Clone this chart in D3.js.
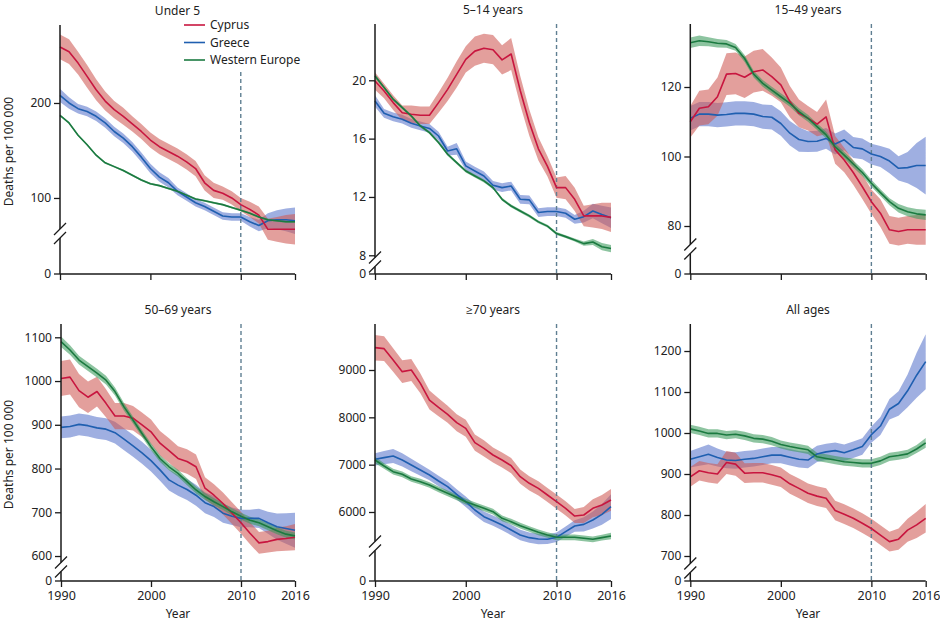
<!DOCTYPE html>
<html><head><meta charset="utf-8">
<script src="https://cdn.jsdelivr.net/npm/d3@7/dist/d3.min.js"></script>
<style>
body{margin:0;background:#fff}
svg{display:block}
text{font-family:"Noto Sans","Open Sans",sans-serif;fill:#222}
</style>
</head><body>
<svg id="chart" width="940" height="623"></svg>
<script>
// ---------------- DATA ----------------
const years = [1990,1991,1992,1993,1994,1995,1996,1997,1998,1999,2000,2001,2002,2003,2004,2005,2006,2007,2008,2009,2010,2011,2012,2013,2014,2015,2016];
const seriesNames = ["Cyprus","Greece","Western Europe"];
const panelTitles = ["Under 5","5–14 years","15–49 years","50–69 years","≥70 years","All ages"];
const xTickYears = [1990,2000,2010,2016];
const xTickLabels = ["1990","2000","2010","2016"];
const yTicksUnder5 = [100,200];
const yTicks5to14 = [8,12,16,20];
const yTicks15to49 = [80,100,120];
const yTicks50to69 = [600,700,800,900,1000,1100];
const yTicks70plus = [6000,7000,8000,9000];
const yTicksAll = [700,800,900,1000,1100,1200];
const yAxisTitle = "Deaths per 100 000";
const xAxisTitle = "Year";
const projectionYear = 2010;

// Under 5
const under5Cyprus = [259,254,242,228,214,202,193,186,178,170,161,154,149,144,138,131,116,108,105,100,93,88,82,67,67,67,67];
const under5Greece = [208,200,194,191,186,179,170,163,154,143,131,122,116,107,101,95,91,86,81,80,80,75,71,76,77,77,76];
const under5WE     = [187,179,166,156,145,137,133,129,124,119,115,113,110,107,103,99,97,95,93,90,87,84,80,77,76,75,75];
const under5CyprusCI = [13,13,12,12,11,10,9,9,8,8,8,8,8,8,8,8,8,8,7,7,7,8,9,11,13,15,16];
const under5GreeceCI = [7,6,5,5,5,5,5,5,5,5,5,5,5,4,4,4,4,4,4,4,4,5,6,8,10,12,14];
const under5WECI     = [1,1,1,1,1,1,1,1,1,1,1,1,1,1,1,1,1,1,1,1,1,1,1,1,1,1,1];

// 5-14 years
const y5to14Cyprus = [19.95,19.27,18.47,17.78,17.67,17.6,17.6,18.47,19.38,20.4,21.44,22.0,22.2,22.1,21.4,21.8,19.3,17.1,15.3,14.1,12.64,12.64,11.84,10.7,10.7,10.7,10.6];
const y5to14Greece = [18.58,17.74,17.5,17.33,17.05,16.87,16.7,16.18,15.15,15.3,14.13,13.78,13.44,12.8,12.64,12.75,11.84,11.8,10.93,11.0,11.0,10.88,10.47,10.65,11.04,10.8,10.58];
const y5to14WE     = [20.3,19.5,18.7,18.13,17.55,16.87,16.41,15.73,14.93,14.35,13.78,13.44,13.1,12.64,11.84,11.38,11.04,10.7,10.29,10.0,9.49,9.28,9.05,8.8,8.91,8.59,8.46];
const y5to14CyprusCI = [0.6,0.5,0.5,0.5,0.6,0.6,0.6,0.7,0.8,0.9,0.9,1.0,1.0,1.0,1.0,1.1,1.0,0.9,0.8,0.7,0.7,0.8,0.8,0.7,0.8,0.9,1.0];
const y5to14GreeceCI = [0.4,0.3,0.3,0.3,0.3,0.3,0.3,0.3,0.3,0.4,0.3,0.3,0.3,0.3,0.3,0.3,0.3,0.3,0.3,0.3,0.3,0.3,0.3,0.4,0.5,0.6,0.7];
const y5to14WECI     = [0.15,0.1,0.1,0.1,0.1,0.1,0.1,0.1,0.1,0.1,0.1,0.1,0.1,0.1,0.1,0.1,0.1,0.1,0.1,0.1,0.1,0.1,0.1,0.15,0.2,0.25,0.25];

// 15-49 years
const y15to49Cyprus = [110,113.9,114.3,117.2,123.7,123.9,122.8,124.4,124.9,123,120.6,115.8,112.4,111.0,109.3,111.4,101.9,99.0,95.4,91.3,87.0,83.7,78.9,78.4,78.9,78.9,78.9];
const y15to49Greece = [111.0,112.2,112.2,111.9,112.1,112.4,112.4,112.2,111.5,111.3,109.5,106.7,104.9,104.3,104.4,105.2,103.6,104.8,102.6,102.2,100.7,100.0,98.7,96.6,96.8,97.4,97.4];
const y15to49WE     = [132.75,133.3,133.0,132.6,132.4,131.4,128.2,123.7,121.05,119.1,117.2,115.3,112.9,111.0,108.6,106.2,102.8,100.4,97.85,95.4,92.3,89.6,87.0,85.1,84.1,83.5,83.2];
const y15to49CyprusCI = [4.5,5,5,5.5,6,6,6,6,6,5.5,5,4.5,4,3.5,3.5,5,4,3.5,3.5,3.5,3.5,4,4,4,4,4.3,4.3];
const y15to49GreeceCI = [3.5,3.5,3.5,3.5,3.5,3.5,3.5,3.5,3.5,3.5,3.5,3.5,3.5,3,3,3,3,3,3,3,3,3,3.5,3.5,4.5,6.5,8.3];
const y15to49WECI     = [1.5,1.5,1.3,1.2,1.1,1,1,1,1,1,1,1,1,1,1,1,1,1,1,1,1,1,1,1.2,1.3,1.4,1.5];

// 50-69 years
const y50to69Cyprus = [1006,1009,978,963,976,949,920,920,915,900,884,858,841,823,816,804,755,739,720,698,676,652,630,633,638,640,643];
const y50to69Greece = [894,896,901,898,893,890,882,867,852,836,818,797,774,762,752,739,722,713,698,691,686,686,686,676,667,663,659];
const y50to69WE     = [1090,1071,1048,1033,1018,1002,976,941,911,880,850,823,804,789,770,751,736,724,713,701,691,682,676,667,658,650,646];
const y50to69CyprusCI = [40,40,38,36,34,32,30,30,28,28,28,28,28,28,28,28,25,25,25,25,25,25,25,25,27,28,30];
const y50to69GreeceCI = [25,25,25,25,25,25,25,25,25,25,25,25,24,24,24,24,24,24,22,20,20,20,22,25,30,35,40];
const y50to69WECI     = [12,11,10,10,10,10,9,9,8,8,8,8,8,8,8,8,8,8,8,8,8,8,8,8,8,8,8];

// 70+ years
const y70Cyprus = [9472,9451,9211,8965,9000,8718,8366,8211,8063,7887,7768,7465,7345,7204,7099,6979,6746,6606,6500,6359,6218,6077,5915,5937,6077,6148,6254];
const y70Greece = [7113,7148,7183,7099,6993,6887,6782,6655,6535,6373,6218,6042,5901,5817,5725,5620,5514,5458,5430,5423,5465,5585,5704,5739,5831,5951,6113];
const y70WE     = [7099,6972,6852,6796,6697,6641,6570,6479,6394,6310,6218,6148,6077,6007,5866,5796,5711,5641,5570,5514,5465,5465,5465,5444,5423,5458,5493];
const y70CyprusCI = [270,260,250,240,230,210,200,190,180,180,180,170,170,160,160,160,150,150,150,150,150,150,150,170,190,210,230];
const y70GreeceCI = [130,140,150,140,130,120,110,110,110,110,110,110,110,110,110,110,110,110,110,100,100,110,120,150,180,220,260];
const y70WECI     = [70,60,60,60,60,60,60,60,60,60,60,60,60,60,60,60,60,60,60,60,60,60,60,60,60,60,70];

// All ages
const allCyprus = [893,908,903,900,928,924,902,903,903,898,892,876,865,853,846,841,811,802,792,780,767,751,735,741,763,776,792];
const allGreece = [936,942,948,940,934,933,936,938,942,946,946,941,936,934,949,954,957,952,959,967,996,1017,1058,1072,1103,1141,1174];
const allWE     = [1010,1005,999,999,995,997,993,987,985,980,972,967,963,959,942,938,934,930,928,926,926,932,942,945,949,961,976];
const allCyprusCI = [24,24,24,24,28,28,24,24,24,24,24,24,24,24,24,24,24,24,24,24,24,24,24,26,28,32,35];
const allGreeceCI = [20,22,24,22,20,20,20,20,20,20,20,20,20,20,20,20,20,20,20,20,20,22,25,30,40,55,67];
const allWECI     = [10,10,10,10,10,10,10,10,10,10,10,10,10,10,10,10,10,10,10,10,10,10,10,10,10,10,12];

// ---------------- STYLE / LAYOUT ----------------
const lineColors = {"Cyprus":"#c8163f","Greece":"#1f5fb0","Western Europe":"#1b7a40"};
const bandColors = {"Cyprus":"#cf5a55","Greece":"#5a75cc","Western Europe":"#3a9a5c"};
const bandOpacity = 0.58;

const panels = [
  {title:panelTitles[0], series:[under5Cyprus,under5Greece,under5WE], ci:[under5CyprusCI,under5GreeceCI,under5WECI], ticks:yTicksUnder5,
   x0:60, x1:295, top:25, zero:274, brk:233.5, dom:[62.6,282.1], dashTop:72, legend:true, yLabel:true, xLabels:false},
  {title:panelTitles[1], series:[y5to14Cyprus,y5to14Greece,y5to14WE], ci:[y5to14CyprusCI,y5to14GreeceCI,y5to14WECI], ticks:yTicks5to14,
   x0:375, x1:611, top:24, zero:274, brk:262, dom:[7.54,23.86], dashTop:24, xLabels:false},
  {title:panelTitles[2], series:[y15to49Cyprus,y15to49Greece,y15to49WE], ci:[y15to49CyprusCI,y15to49GreeceCI,y15to49WECI], ticks:yTicks15to49,
   x0:690.3, x1:925.7, top:24, zero:274, brk:249, dom:[73.38,138.13], dashTop:24, xLabels:false},
  {title:panelTitles[3], series:[y50to69Cyprus,y50to69Greece,y50to69WE], ci:[y50to69CyprusCI,y50to69GreeceCI,y50to69WECI], ticks:yTicks50to69,
   x0:61, x1:295, top:324, zero:581, brk:567, dom:[574.9,1130.4], dashTop:324, yLabel:true, xLabels:true},
  {title:panelTitles[4], series:[y70Cyprus,y70Greece,y70WE], ci:[y70CyprusCI,y70GreeceCI,y70WECI], ticks:yTicks70plus,
   x0:375, x1:611, top:324, zero:581, brk:546, dom:[5281.6,9971.9], dashTop:324, xLabels:true},
  {title:panelTitles[5], series:[allCyprus,allGreece,allWE], ci:[allCyprusCI,allGreeceCI,allWECI], ticks:yTicksAll,
   x0:690.3, x1:925.7, top:324, zero:581, brk:568, dom:[670.7,1265.9], dashTop:324, xLabels:true}
];

const svg = d3.select("#chart");

panels.forEach((p) => {
  const g = svg.append("g");
  const x = d3.scaleLinear().domain([years[0], years[years.length-1]]).range([p.x0, p.x1]);
  const y = d3.scaleLinear().domain(p.dom).range([p.brk, p.top]);

  // bands (Greece, Cyprus, WE order)
  [1,0,2].forEach(si => {
    const name = seriesNames[si];
    const vals = p.series[si], ci = p.ci[si];
    const area = d3.area()
      .x((d,i) => x(years[i]))
      .y0((d,i) => y(vals[i] - ci[i]))
      .y1((d,i) => y(vals[i] + ci[i]));
    g.append("path").datum(vals).attr("d", area)
      .attr("fill", bandColors[name]).attr("fill-opacity", bandOpacity).attr("stroke","none");
  });

  // dashed projection line
  g.append("line")
    .attr("x1", x(projectionYear)).attr("x2", x(projectionYear))
    .attr("y1", p.dashTop).attr("y2", p.zero)
    .attr("stroke", "#5f7f92").attr("stroke-width", 1.4).attr("stroke-dasharray", "4,3");

  // lines
  [1,0,2].forEach(si => {
    const name = seriesNames[si];
    const vals = p.series[si];
    const line = d3.line().x((d,i) => x(years[i])).y(d => y(d));
    g.append("path").datum(vals).attr("d", line)
      .attr("fill","none").attr("stroke", lineColors[name]).attr("stroke-width", 1.6)
      .attr("stroke-linejoin","round");
  });

  // axes
  const axisColor = "#1a1a1a";
  const ax = p.x0;
  const gapTop = p.brk - 4.5, gapBot = p.brk + 4.5;
  g.append("line").attr("x1",ax).attr("x2",ax).attr("y1",p.top).attr("y2",gapTop)
    .attr("stroke",axisColor).attr("stroke-width",1.5);
  g.append("line").attr("x1",ax).attr("x2",ax).attr("y1",gapBot).attr("y2",p.zero)
    .attr("stroke",axisColor).attr("stroke-width",1.5);
  // break slashes
  [gapTop, gapBot].forEach(cy => {
    g.append("line").attr("x1",ax-6).attr("x2",ax+6).attr("y1",cy+6).attr("y2",cy-6)
      .attr("stroke",axisColor).attr("stroke-width",1.3);
  });

  // y ticks
  const yg = g.append("g").attr("transform", `translate(${ax},0)`);
  const yAxis = d3.axisLeft(y).tickValues(p.ticks).tickSize(6).tickPadding(3).tickFormat(d3.format("d"));
  yg.call(yAxis);
  yg.select(".domain").remove();
  yg.selectAll(".tick line").attr("stroke",axisColor).attr("stroke-width",1.3);
  yg.selectAll(".tick text").attr("font-size",12).style("font-family",'"Noto Sans",sans-serif').attr("fill","#222");
  // zero tick
  g.append("line").attr("x1",ax-6).attr("x2",ax).attr("y1",p.zero).attr("y2",p.zero)
    .attr("stroke",axisColor).attr("stroke-width",1.3);
  g.append("text").attr("x",ax-9).attr("y",p.zero).attr("dy","0.35em")
    .attr("text-anchor","end").attr("font-size",12).text("0");

  // x axis
  const xg = g.append("g").attr("transform", `translate(0,${p.zero})`);
  const xAxis = d3.axisBottom(x).tickValues(xTickYears).tickSize(6).tickPadding(4)
    .tickFormat((d,i) => p.xLabels ? xTickLabels[i] : "");
  xg.call(xAxis);
  xg.select(".domain").attr("stroke",axisColor).attr("stroke-width",1.5).attr("d", `M${p.x0},0H${p.x1}`);
  xg.selectAll(".tick line").attr("stroke",axisColor).attr("stroke-width",1.3);
  xg.selectAll(".tick text").attr("font-size",12.5).style("font-family",'"Noto Sans",sans-serif').attr("fill","#222");

  if (p.xLabels) {
    g.append("text").attr("x",(p.x0+p.x1)/2).attr("y",p.zero+37)
      .attr("text-anchor","middle").attr("font-size",12).text(xAxisTitle);
  }

  // title
  g.append("text").attr("x",(p.x0+p.x1)/2).attr("y",p.top-10.5)
    .attr("text-anchor","middle").attr("font-size",12).text(p.title);

  // y label
  if (p.yLabel) {
    const cy = (p.top + p.zero)/2 + 2;
    g.append("text").attr("transform",`translate(9,${cy}) rotate(-90)`)
      .attr("text-anchor","middle").attr("dy","0.35em").attr("font-size",12).text(yAxisTitle);
  }

  // legend
  if (p.legend) {
    seriesNames.forEach((n,i) => {
      const ly = 25 + i*17.5;
      g.append("line").attr("x1",184).attr("x2",205).attr("y1",ly).attr("y2",ly)
        .attr("stroke",lineColors[n]).attr("stroke-width",1.6);
      g.append("text").attr("x",210).attr("y",ly).attr("dy","0.35em").attr("font-size",12).text(n);
    });
  }
});
</script>
</body></html>
